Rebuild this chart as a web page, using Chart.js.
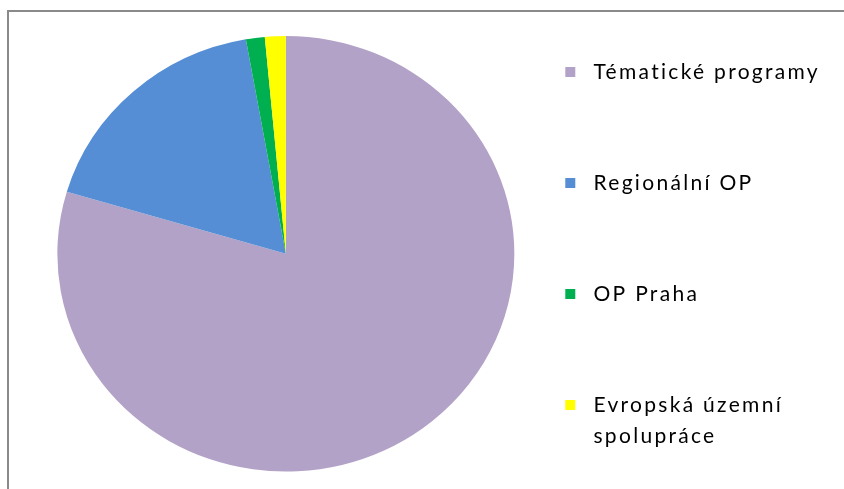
<!DOCTYPE html>
<html>
<head>
<meta charset="utf-8">
<script src="https://cdn.jsdelivr.net/npm/chart.js@4/dist/chart.umd.min.js"></script>
<style>
  html, body { margin: 0; padding: 0; background: #fff; overflow: hidden; }
  #wrap { position: relative; width: 844px; height: 489px; }
  #frame { position: absolute; left: 7px; top: 10px; width: 900px; height: 600px;
           border-top: 2px solid #8a8a8a; border-left: 2px solid #8a8a8a; pointer-events: none; }
  canvas { position: absolute; left: 0; top: 0; }
</style>
</head>
<body>
<div id="wrap">
  <canvas id="c" width="844" height="489"></canvas>
  <div id="frame"></div>
</div>
<script>
// ---- data ----
const categories = ['Tématické programy', 'Regionální OP', 'OP Praha', 'Evropská územní spolupráce'];
const values = [79.6, 17.6, 1.33, 1.47];
const sliceColors = ['#B3A2C7', '#558ED5', '#00B050', '#FFFF00'];
const legendWraps = { 'Evropská územní spolupráce': ['Evropská územní', 'spolupráce'] };

const LETTER_SPACING = '2.3px';
const STRETCH_X = 228.5 / 217.8;

const spacingPlugin = {
  id: 'spacing',
  beforeLayout(chart) { chart.ctx.letterSpacing = LETTER_SPACING; },
  beforeDraw(chart) { chart.ctx.letterSpacing = LETTER_SPACING; }
};

const stretchPlugin = {
  id: 'stretch',
  beforeDatasetsDraw(chart) {
    const arc = chart.getDatasetMeta(0).data[0];
    const ctx = chart.ctx;
    ctx.save();
    ctx.translate(arc.x, arc.y);
    ctx.scale(STRETCH_X, 1);
    ctx.translate(-arc.x, -arc.y);
  },
  afterDatasetsDraw(chart) { chart.ctx.restore(); }
};

new Chart(document.getElementById('c'), {
  type: 'pie',
  data: {
    labels: categories,
    datasets: [{
      data: values,
      backgroundColor: sliceColors,
      borderWidth: 0,
      radius: 217.8
    }]
  },
  options: {
    responsive: false,
    animation: false,
    devicePixelRatio: 1,
    layout: { padding: { top: 33.1, bottom: 14.5, left: 24.4, right: 14 } },
    plugins: {
      tooltip: { enabled: false },
      legend: {
        position: 'right',
        align: 'end',
        labels: {
          boxWidth: 10,
          boxHeight: 10,
          padding: 18,
          color: '#000',
          font: { family: 'Lato', size: 21, lineHeight: '31px' },
          generateLabels(chart) {
            const items = Chart.overrides.pie.plugins.legend.labels.generateLabels(chart);
            items.forEach((it, i) => {
              const name = categories[i];
              let lines = (legendWraps[name] || [name]).map(s => ' ' + s);
              if (lines.length === 1) lines = lines.concat(['', '']);
              it.text = lines;
              it.lineWidth = 0;
              it.strokeStyle = 'rgba(0,0,0,0)';
            });
            return items;
          }
        }
      }
    }
  },
  plugins: [spacingPlugin, stretchPlugin]
});
</script>
</body>
</html>
